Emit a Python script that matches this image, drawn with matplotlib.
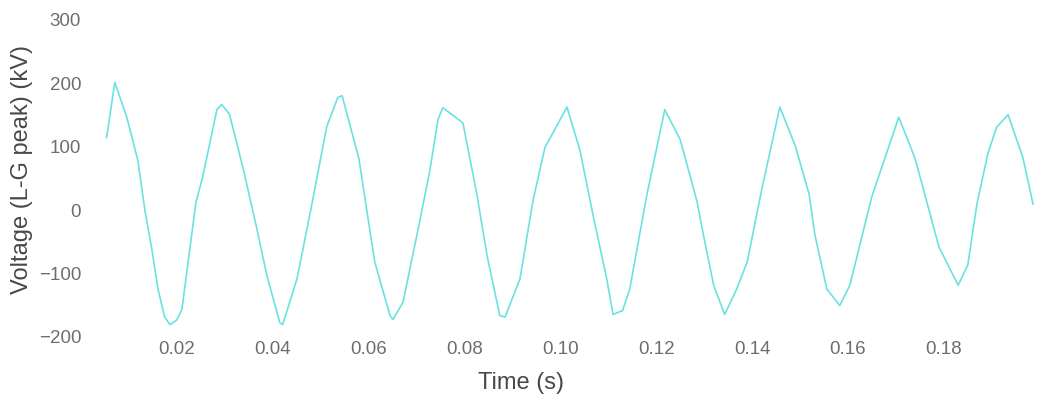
import matplotlib

matplotlib.use("Agg")
import matplotlib.pyplot as plt

# Waveform samples (time in s, L-G peak voltage in kV)
time_s = [
    0.0054, 0.0071, 0.0096, 0.0119, 0.0134, 0.0148, 0.0161, 0.0175, 0.0186,
    0.0200, 0.0211, 0.0240, 0.0254, 0.0284, 0.0294, 0.0310, 0.0340, 0.0367,
    0.0388, 0.0415, 0.0421, 0.0451, 0.0480, 0.0513, 0.0536, 0.0545, 0.0580,
    0.0613, 0.0645, 0.0651, 0.0672, 0.0707, 0.0728, 0.0745, 0.0755, 0.0797,
    0.0826, 0.0847, 0.0874, 0.0885, 0.0916, 0.0943, 0.0968, 0.1014, 0.1041,
    0.1068, 0.1097, 0.1110, 0.1130, 0.1145, 0.1180, 0.1218, 0.1250, 0.1285,
    0.1300, 0.1320, 0.1343, 0.1368, 0.1390, 0.1420, 0.1458, 0.1490, 0.1519,
    0.1531, 0.1556, 0.1583, 0.1604, 0.1650, 0.1706, 0.1740, 0.1790, 0.1830,
    0.1850, 0.1869, 0.1892, 0.1910, 0.1934, 0.1965, 0.1980, 0.1986,
]
voltage_kv = [
    113, 200, 145, 77, -3, -62, -126, -170, -182,
    -175, -158, 10, 50, 157, 165, 150, 60, -30,
    -104, -179, -182, -110, 0, 130, 176, 179, 80,
    -83, -168, -174, -147, -19, 61, 141, 160, 136,
    24, -72, -168, -170, -110, 13, 97, 161, 93,
    -8, -110, -166, -160, -126, 20, 157, 110, 13,
    -46, -120, -166, -126, -83, 30, 161, 100, 24,
    -40, -126, -152, -120, 20, 145, 80, -60, -120,
    -88, 8, 88, 129, 149, 81, 29, 8,
]

x_ticks = [0.02, 0.04, 0.06, 0.08, 0.10, 0.12, 0.14, 0.16, 0.18]
y_ticks = [-200, -100, 0, 100, 200, 300]

LINE_COLOR = "#52dcdc"
TICK_COLOR = "#6e6e6e"
LABEL_COLOR = "#484848"

plt.rcParams["font.family"] = ["Liberation Sans", "DejaVu Sans"]

fig = plt.figure(figsize=(10.37, 4.06), dpi=100)
ax = fig.add_axes([0.101, 0.170, 0.897, 0.781])

ax.plot(time_s, voltage_kv, color=LINE_COLOR, linewidth=1.2, alpha=0.85)

ax.set_xlim(0.005, 0.199)
ax.set_ylim(-200, 300)
ax.set_xticks(x_ticks)
ax.set_xticklabels([f"{t:.2f}" for t in x_ticks])
ax.set_yticks(y_ticks)
ax.set_yticklabels([f"{v:d}".replace("-", "\u2212") for v in y_ticks])

for side in ("top", "right", "bottom", "left"):
    ax.spines[side].set_visible(False)
ax.tick_params(length=0, colors=TICK_COLOR, labelsize=13.5)
ax.tick_params(axis="x", pad=3)
ax.tick_params(axis="y", pad=17)

ax.set_xlabel("Time (s)", fontsize=17, color=LABEL_COLOR, va="center")
ax.xaxis.set_label_coords(0.448, -0.145)
ax.set_ylabel("Voltage (L-G peak) (kV)", fontsize=17, color=LABEL_COLOR,
              va="center")
ax.yaxis.set_label_coords(-0.089, 0.527)

fig.savefig("out.png", dpi=100, facecolor="white")
